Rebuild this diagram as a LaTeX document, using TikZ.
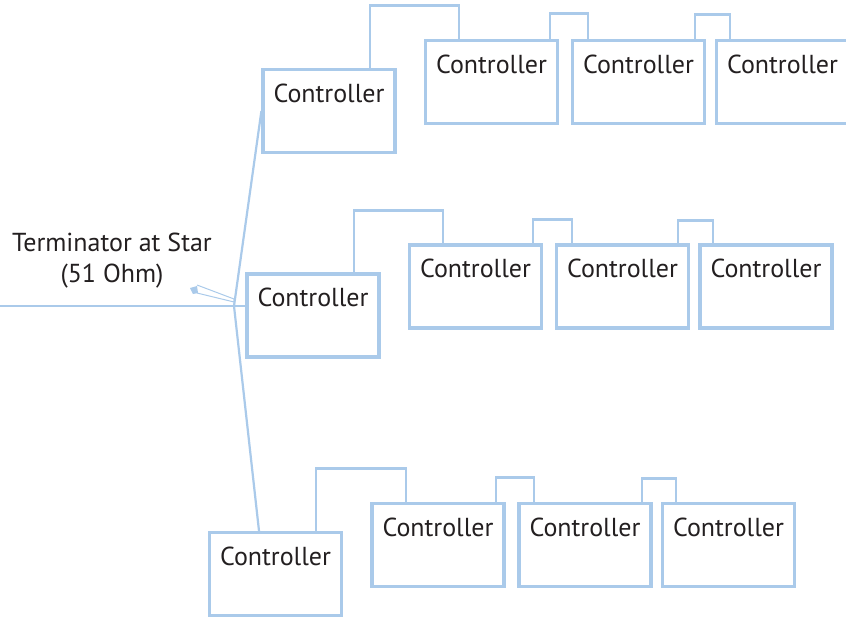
\documentclass[tikz,border=0pt]{standalone}
\usepackage{fontspec}
\setmainfont{PT Sans}
\definecolor{wire}{RGB}{170,202,234}
\definecolor{ink}{RGB}{35,31,32}

\tikzstyle{controller}=[draw=wire,line width=3.2pt,rectangle,inner sep=0pt,
  minimum width=132pt,text height=32.5pt,text depth=50.5pt,text=ink,
  font=\fontsize{26}{30}\selectfont]
\tikzstyle{link}=[draw=wire,line width=2.8pt]
\tikzstyle{star line}=[draw=wire,line width=2.2pt]
\tikzstyle{feed}=[draw=wire,line width=1.3pt]
\tikzstyle{caption}=[text=ink,align=center,font=\fontsize{26}{31}\selectfont]

\begin{document}
\begin{tikzpicture}[x=1pt,y=-1pt]
\useasboundingbox (0,0) rectangle (846,619);
\foreach \pos/\name in {{(329,111)/r1a}, {(491.5,82)/r1b}, {(638.5,82)/r1c}, {(782.5,82)/r1d},
                        {(313,315.5)/r2a}, {(475.5,286.5)/r2b}, {(622.5,286.5)/r2c}, {(766,286.5)/r2d},
                        {(275.5,574)/r3a}, {(438,545)/r3b}, {(585,545)/r3c}, {(728.5,545)/r3d}}{
  \node[controller] (\name) at \pos {Controller};
}
% daisy chain between neighbouring controllers
\foreach \source/\dest/\sx/\dx/\h in {r1a/r1b/41/-32.5/62.5, r1b/r1c/58.5/-50.5/25.5, r1c/r1d/56.5/-52.5/24.5,
                                   r2a/r2b/41/-32.5/62, r2b/r2c/57.5/-50.5/24, r2c/r2d/55.5/-53/23,
                                   r3a/r3b/40.5/-32/62.5, r3b/r3c/58/-51/24.5, r3c/r3d/57/-52.5/23.5} {
  \path[link] ([xshift=\sx pt]\source.north) -- ++(0,-\h) -| ([xshift=\dx pt]\dest.north);
}
% star point with its three branches
\coordinate (star) at (234,306);
\coordinate (input) at (0,306);
\path[feed] (input) -- (r2a.west |- input);
\path[star line] (star) -- (r1a.west);
\path[star line] (star) -- ([xshift=-16.5pt]r3a.north);
% terminator resistor
\fill[wire] (190,288) -- (197,286) -- (198,293) -- (193,294) -- cycle;
\draw[wire,line width=1pt] (197,285) -- (234,299) -- (234,302) -- (197,293);
\node[caption] (term) at (112,261) {Terminator at Star\\(51 Ohm)};
\end{tikzpicture}
\end{document}
